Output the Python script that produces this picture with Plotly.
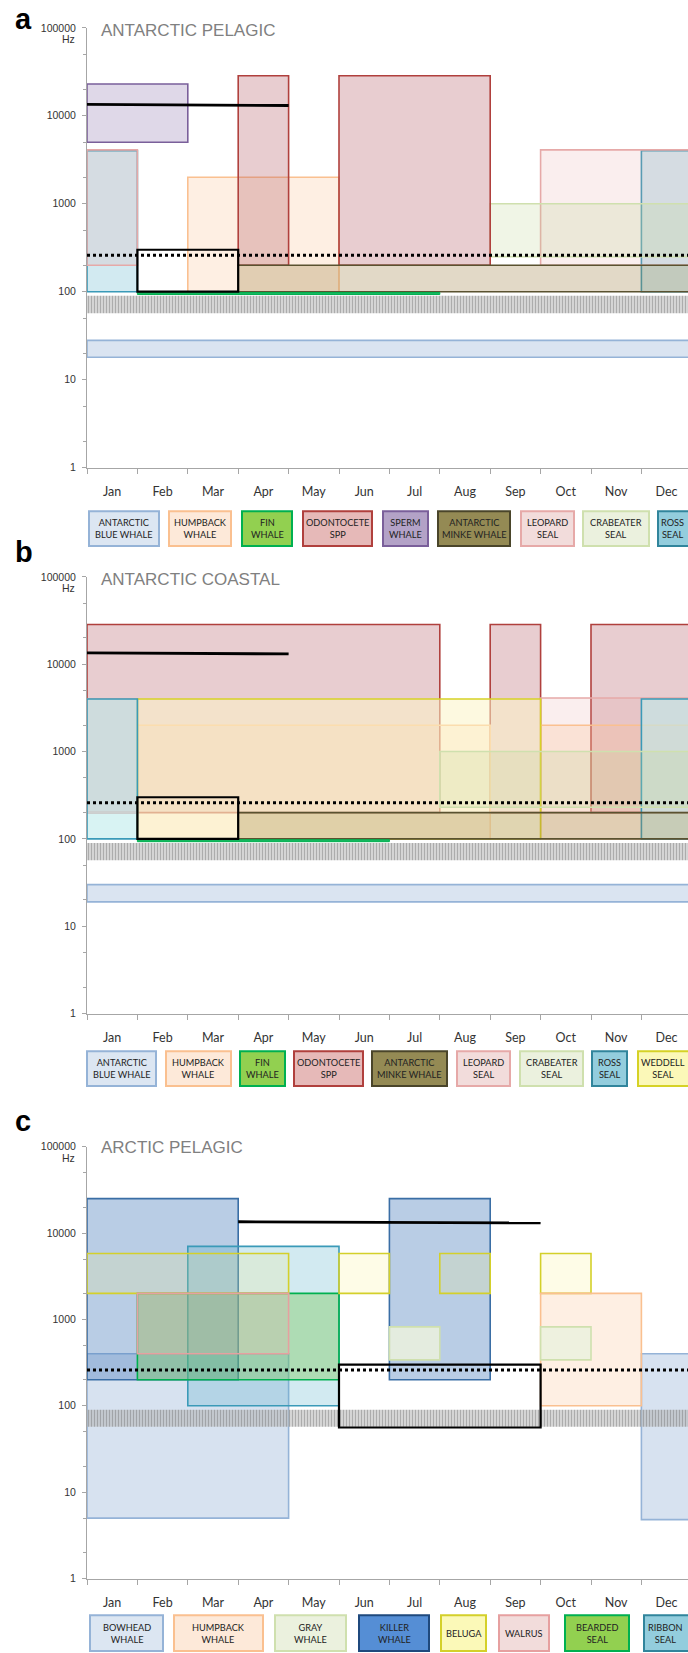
import plotly.graph_objects as go

W, H = 688, 1653

months = ['Jan', 'Feb', 'Mar', 'Apr', 'May', 'Jun', 'Jul', 'Aug', 'Sep', 'Oct', 'Nov', 'Dec']
y_tickvals = [1, 10, 100, 1000, 10000, 100000]
y_ticktext = ['1', '10', '100', '1000', '10000', '100000']

# ---------------- Panel a : ANTARCTIC PELAGIC ----------------
a_title = 'ANTARCTIC PELAGIC'
a_rect_species = ['blue', 'ross', 'ross', 'leopard', 'leopard', 'humpback', 'crabeater',
                  'odontocete', 'odontocete', 'sperm', 'minke', 'fin']
a_rect_start = [0, 0, 11, 0, 9, 2, 8, 3, 5, 0, 3, 1]      # month index (Jan=0)
a_rect_end = [12, 1, 12, 1, 12, 5, 12, 4, 8, 2, 12, 7]     # exclusive
a_rect_low = [18, 100, 100, 200, 200, 100, 250, 200, 200, 5000, 100, 93]
a_rect_high = [28, 4000, 4000, 4100, 4100, 2000, 1000, 28500, 28500, 23000, 200, 98]
a_box_start, a_box_end, a_box_low, a_box_high = 1, 3, 100, 300
a_line_start, a_line_end, a_line_y0, a_line_y1 = 0, 4, 13500, 13100
a_legend_species = ['blue', 'humpback', 'fin', 'odontocete', 'sperm', 'minke', 'leopard', 'crabeater', 'ross']
a_legend_text = ['ANTARCTIC<br>BLUE WHALE', 'HUMPBACK<br>WHALE', 'FIN<br>WHALE', 'ODONTOCETE<br>SPP',
                 'SPERM<br>WHALE', 'ANTARCTIC<br>MINKE WHALE', 'LEOPARD<br>SEAL', 'CRABEATER<br>SEAL', 'ROSS<br>SEAL']

# ---------------- Panel b : ANTARCTIC COASTAL ----------------
b_title = 'ANTARCTIC COASTAL'
b_rect_species = ['blue', 'odontocete', 'odontocete', 'odontocete', 'leopard', 'leopard',
                  'humpback', 'humpback', 'weddell', 'ross', 'ross', 'crabeater', 'minke', 'fin']
b_rect_start = [0, 0, 8, 10, 0, 9, 1, 9, 1, 0, 11, 7, 3, 1]
b_rect_end = [12, 7, 9, 12, 1, 12, 8, 12, 9, 1, 12, 12, 12, 6]
b_rect_low = [19, 200, 200, 200, 200, 200, 100, 100, 100, 100, 100, 230, 100, 93]
b_rect_high = [30, 28500, 28500, 28500, 4000, 4100, 2000, 2000, 4000, 4000, 4000, 1000, 200, 98]
b_box_start, b_box_end, b_box_low, b_box_high = 1, 3, 100, 300
b_line_start, b_line_end, b_line_y0, b_line_y1 = 0, 4, 13500, 13100
b_legend_species = ['blue', 'humpback', 'fin', 'odontocete', 'minke', 'leopard', 'crabeater', 'ross', 'weddell']
b_legend_text = ['ANTARCTIC<br>BLUE WHALE', 'HUMPBACK<br>WHALE', 'FIN<br>WHALE', 'ODONTOCETE<br>SPP',
                 'ANTARCTIC<br>MINKE WHALE', 'LEOPARD<br>SEAL', 'CRABEATER<br>SEAL', 'ROSS<br>SEAL', 'WEDDELL<br>SEAL']

# ---------------- Panel c : ARCTIC PELAGIC ----------------
c_title = 'ARCTIC PELAGIC'
c_rect_species = ['bowhead', 'bowhead', 'killer', 'killer', 'ribbon', 'bearded',
                  'beluga', 'beluga', 'beluga', 'beluga', 'walrus', 'humpback', 'gray', 'gray']
c_rect_start = [0, 11, 0, 6, 2, 1, 0, 5, 7, 9, 1, 9, 6, 9]
c_rect_end = [4, 12, 3, 8, 5, 5, 4, 6, 8, 10, 4, 11, 7, 10]
c_rect_low = [5, 4.8, 200, 200, 100, 200, 2000, 2000, 2000, 2000, 400, 100, 340, 340]
c_rect_high = [400, 400, 25000, 25000, 7000, 2000, 5800, 5800, 5800, 5800, 2000, 2000, 820, 820]
c_box_start, c_box_end, c_box_low, c_box_high = 5, 9, 56, 300
c_line_start, c_line_end, c_line_y0, c_line_y1 = 3, 9, 13500, 13100
c_legend_species = ['bowhead', 'humpback', 'gray', 'killer', 'beluga', 'walrus', 'bearded', 'ribbon']
c_legend_text = ['BOWHEAD<br>WHALE', 'HUMPBACK<br>WHALE', 'GRAY<br>WHALE', 'KILLER<br>WHALE',
                 'BELUGA', 'WALRUS', 'BEARDED<br>SEAL', 'RIBBON<br>SEAL']

# shared reference levels
dotted_level = 260
noise_low, noise_high = 57, 90

# ---------------- styles ----------------
STYLE = {  # chart fill, border, legend fill, legend border
    'blue':       ('rgba(149,179,215,0.35)', '#95b3d7', '#dce6f2', '#95b3d7'),
    'bowhead':    ('rgba(149,179,215,0.38)', '#95b3d7', '#dce6f2', '#95b3d7'),
    'humpback':   ('rgba(250,192,144,0.25)', '#fac090', '#fde9d9', '#fac090'),
    'fin':        ('rgba(0,176,80,0.9)', '#00b050', '#92d050', '#00b050'),
    'odontocete': ('rgba(180,90,100,0.30)', '#b0403d', '#e6b9b8', '#b0403d'),
    'sperm':      ('rgba(128,100,162,0.25)', '#7a5f9a', '#b3a2c7', '#7a5f9a'),
    'minke':      ('rgba(160,130,70,0.30)', '#5a5230', '#948a54', '#4a452a'),
    'leopard':    ('rgba(230,160,160,0.18)', '#e6a9a8', '#f2dcdb', '#e6a9a8'),
    'crabeater':  ('rgba(195,214,155,0.25)', '#cfe0ae', '#ebf1de', '#cfe0ae'),
    'ross':       ('rgba(75,172,198,0.25)', '#3a9ab8', '#93cddd', '#31859c'),
    'weddell':    ('rgba(251,244,199,0.55)', '#d6d226', '#fbf8b8', '#d6d226'),
    'gray':       ('rgba(235,241,222,0.85)', '#cfe0ae', '#ebf1de', '#cfe0ae'),
    'killer':     ('rgba(79,129,189,0.40)', '#3a6ea5', '#558ed5', '#1f497d'),
    'beluga':     ('rgba(250,240,120,0.18)', '#d4d02a', '#fbf9b8', '#d4d02a'),
    'walrus':     ('rgba(230,160,160,0.20)', '#e6a0a0', '#f2dcdb', '#e6a0a0'),
    'bearded':    ('rgba(120,200,90,0.40)', '#00b050', '#92d050', '#00b050'),
    'ribbon':     ('rgba(75,172,198,0.25)', '#3a9ab8', '#93cddd', '#31859c'),
}
B_FILL = {'ross': 'rgba(190,235,235,0.6)'}   # coastal panel: Ross seal drawn more opaque

# panel geometry in pixels (top of 100000 Hz, bottom of 1 Hz); legend box extents
panels = [
    dict(suffix='', top=22, bottom=465, title=a_title, letter='a', fill_over={},
         species=a_rect_species, start=a_rect_start, end=a_rect_end, low=a_rect_low, high=a_rect_high,
         box=(a_box_start, a_box_end, a_box_low, a_box_high),
         line=(a_line_start, a_line_end, a_line_y0, a_line_y1),
         leg_sp=a_legend_species, leg_txt=a_legend_text,
         leg_x=[(88, 160), (168, 232), (241, 293), (302, 373), (382, 429), (437, 511), (520, 575), (582, 650), (657, 700)],
         leg_y=(508, 545), title_y=25, letter_y=13),
    dict(suffix='2', top=575, bottom=1015, title=b_title, letter='b', fill_over=B_FILL,
         species=b_rect_species, start=b_rect_start, end=b_rect_end, low=b_rect_low, high=b_rect_high,
         box=(b_box_start, b_box_end, b_box_low, b_box_high),
         line=(b_line_start, b_line_end, b_line_y0, b_line_y1),
         leg_sp=b_legend_species, leg_txt=b_legend_text,
         leg_x=[(86, 157), (165, 232), (239, 286), (293, 364), (371, 448), (456, 511), (519, 584), (591, 628), (637, 700)],
         leg_y=(1052, 1089), title_y=578, letter_y=550),
    dict(suffix='3', top=1149, bottom=1584, title=c_title, letter='c', fill_over={},
         species=c_rect_species, start=c_rect_start, end=c_rect_end, low=c_rect_low, high=c_rect_high,
         box=(c_box_start, c_box_end, c_box_low, c_box_high),
         line=(c_line_start, c_line_end, c_line_y0, c_line_y1),
         leg_sp=c_legend_species, leg_txt=c_legend_text,
         leg_x=[(89, 164), (173, 264), (274, 347), (358, 430), (440, 487), (498, 550), (564, 630), (643, 700)],
         leg_y=(1620, 1658), title_y=1150, letter_y=1123),
]

AX_LEFT = 87
MONTH_W = 50.4
x_max = (W - AX_LEFT) / MONTH_W

fig = go.Figure()
annotations = []
shapes = []
AXC = '#a6a6a6'
TICKFONT = dict(family='Liberation Sans, Arial, sans-serif', size=10.5, color='#333333')
MONTHFONT = dict(family='Lato, Carlito, Calibri, sans-serif', size=12.5, color='#333333')
LEGFONT = dict(family='Lato, Carlito, Calibri, sans-serif', size=9.2, color='#222222')


def px_x(p):
    return p / W


def px_y(p):
    return 1 - p / H


layout_axes = {}
for p in panels:
    s = p['suffix']
    xa, ya = 'x' + s, 'y' + s
    # species rectangles
    for sp, st, en, lo, hi in zip(p['species'], p['start'], p['end'], p['low'], p['high']):
        fill = p['fill_over'].get(sp, STYLE[sp][0])
        border = STYLE[sp][1]
        lw = 1.0 if sp == 'fin' else 1.6
        fig.add_trace(go.Bar(x=[(st + en) / 2], y=[hi - lo], base=[lo], width=[en - st],
                             marker=dict(color=fill, line=dict(color=border, width=lw)),
                             xaxis=xa, yaxis=ya, showlegend=False, hoverinfo='skip'))
    # hatched noise band
    fig.add_trace(go.Bar(x=[6], y=[noise_high - noise_low], base=[noise_low], width=[12],
                         marker=dict(color='rgba(0,0,0,0)', line=dict(width=0),
                                     pattern=dict(shape='|', fgcolor='#6a6a6a', bgcolor='rgba(220,220,220,0.45)',
                                                  size=3, solidity=0.6, fillmode='overlay')),
                         xaxis=xa, yaxis=ya, showlegend=False, hoverinfo='skip'))
    # black box
    bs, be, bl, bh = p['box']
    fig.add_trace(go.Bar(x=[(bs + be) / 2], y=[bh - bl], base=[bl], width=[be - bs],
                         marker=dict(color='rgba(0,0,0,0)', line=dict(color='black', width=2.2)),
                         xaxis=xa, yaxis=ya, showlegend=False, hoverinfo='skip'))
    # dotted reference line
    fig.add_trace(go.Scatter(x=[0, 12], y=[dotted_level, dotted_level], mode='lines',
                             line=dict(color='black', width=3, dash='dot'),
                             xaxis=xa, yaxis=ya, showlegend=False, hoverinfo='skip'))
    # solid line
    ls, le, l0, l1 = p['line']
    fig.add_trace(go.Scatter(x=[ls, le], y=[l0, l1], mode='lines',
                             line=dict(color='black', width=2.8),
                             xaxis=xa, yaxis=ya, showlegend=False, hoverinfo='skip'))

    layout_axes['xaxis' + s] = dict(
        domain=[px_x(AX_LEFT), 1], range=[0, x_max], anchor=ya,
        tickmode='array', tickvals=[i + 0.5 for i in range(12)], ticktext=months,
        ticks='', showline=True, linecolor=AXC, linewidth=1, showgrid=False, zeroline=False,
        tickfont=MONTHFONT, ticklabelstandoff=12,
        minor=dict(ticks='outside', ticklen=5, tickcolor=AXC, tick0=0, dtick=1, showgrid=False),
        fixedrange=True)
    layout_axes['yaxis' + s] = dict(
        domain=[px_y(p['bottom']), px_y(p['top'])], type='log', range=[0, 5], anchor=xa,
        tickmode='array', tickvals=y_tickvals, ticktext=y_ticktext,
        ticks='outside', ticklen=4, tickcolor=AXC, showline=True, linecolor=AXC, linewidth=1,
        showgrid=False, zeroline=False, tickfont=TICKFONT, ticklabelstandoff=4,
        minor=dict(ticks='outside', ticklen=3, tickcolor=AXC, showgrid=False),
        fixedrange=True)

    # texts
    annotations.append(dict(text='<b>' + p['letter'] + '</b>', x=px_x(13), y=px_y(p['letter_y']), xref='paper',
                            yref='paper', xanchor='left', yanchor='middle', showarrow=False,
                            font=dict(family='Liberation Sans, Arial, sans-serif', size=29, color='black')))
    annotations.append(dict(text=p['title'], x=px_x(99), y=px_y(p['title_y']), xref='paper', yref='paper',
                            xanchor='left', yanchor='middle', showarrow=False,
                            font=dict(family='Liberation Sans, Arial, sans-serif', size=17, color='#808080')))
    annotations.append(dict(text='Hz', x=px_x(77), y=px_y(p['top'] + 11), xref='paper', yref='paper',
                            xanchor='right', yanchor='middle', showarrow=False, font=TICKFONT))
    # legend boxes (shapes, may run past the right edge like the original) + labels
    y0, y1 = p['leg_y']
    for sp, txt, (x0, x1) in zip(p['leg_sp'], p['leg_txt'], p['leg_x']):
        lf, lb = STYLE[sp][2], STYLE[sp][3]
        shapes.append(dict(type='rect', xref='paper', yref='paper',
                           x0=px_x(x0 + 1), x1=px_x(x1 - 1), y0=px_y(y1 - 1), y1=px_y(y0 + 1),
                           fillcolor=lf, line=dict(color=lb, width=2), layer='above'))
        cx = (x0 + x1) / 2 if x1 <= W else (x0 + W) / 2
        annotations.append(dict(text=txt, x=px_x(cx), y=px_y((y0 + y1) / 2),
                                xref='paper', yref='paper', xanchor='center', yanchor='middle',
                                showarrow=False, align='center', font=LEGFONT))

fig.update_layout(
    width=W, height=H, margin=dict(l=0, r=0, t=0, b=0),
    paper_bgcolor='white', plot_bgcolor='white',
    barmode='overlay', showlegend=False,
    annotations=annotations, shapes=shapes, **layout_axes)

fig.write_html('out.html')
